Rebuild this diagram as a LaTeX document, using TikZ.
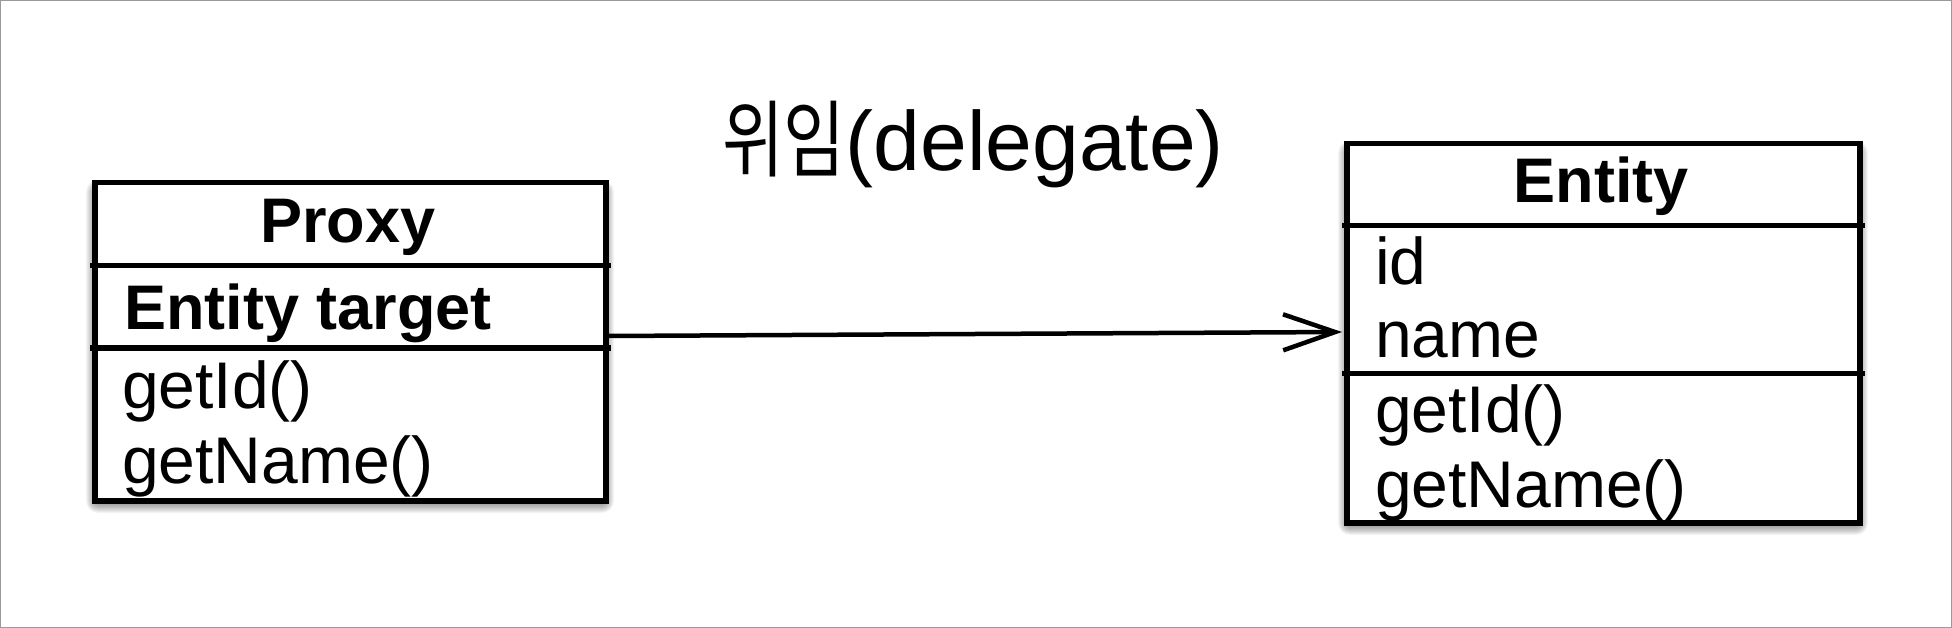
\documentclass[tikz,border=0pt]{standalone}
\usepackage{fontspec}
\usepackage{graphicx}
\setmainfont{Liberation Sans}
\newfontfamily\krfont{Noto Sans CJK KR}
\usetikzlibrary{arrows.meta,calc}
\tikzset{
  classbox/.style={draw=black, line width=5.5pt, fill=white, inner sep=0pt, anchor=north west},
  divider/.style={line width=5pt, line cap=rect},
  classtitle/.style={font=\bfseries\fontsize{63}{63}\selectfont, anchor=base, inner sep=0pt},
  attrbold/.style={font=\bfseries\fontsize{63}{63}\selectfont, anchor=base west, inner sep=0pt},
  member/.style={font=\fontsize{66}{66}\selectfont, anchor=base west, inner sep=0pt},
  relabel/.style={font=\fontsize{84}{84}\selectfont, anchor=base, inner sep=0pt},
  link/.style={line width=4.5pt, -{Straight Barb[length=52pt,width=36pt]}},
}
\newcommand{\softshadow}[2]{%
  \foreach \r in {1,...,12}{%
    \fill[black, opacity=0.045, rounded corners=\r pt]
      ($(#1)+(6-\r,12-\r)$) rectangle ($(#2)+(-1+\r,3+\r)$);
  }%
}
\begin{document}
\begin{tikzpicture}[x=1pt,y=-1pt]
  \useasboundingbox (0,0) rectangle (1952,628);
  \fill[white] (0,0) rectangle (1952,628);
  \draw[black!40, line width=2.5pt] (0,0) rectangle (1952,628);

  % shadows
  \coordinate (pnw) at (92,180);
  \coordinate (pse) at (603,498);
  \coordinate (enw) at (1344,141);
  \coordinate (ese) at (1857,520);
  \softshadow{pnw}{pse}
  \softshadow{enw}{ese}

  % Proxy class
  \node[classbox, minimum width=511pt, minimum height=318pt] (proxy) at (pnw) {};
  \draw[divider] (proxy.west |- 0,266) coordinate (pd1a) -- (proxy.east |- 0,266) coordinate (pd1b);
  \draw[divider] (proxy.west |- 0,348) coordinate (pd2a) -- (proxy.east |- 0,348) coordinate (pd2b);
  \node[classtitle] (proxyname) at (348,243) {Proxy};
  \node[attrbold] (proxytarget) at (124,330) {Entity target};
  \node[member] (proxygetid) at (122,408) {getId()};
  \node[member] (proxygetname) at (122,483) {getName()};

  % Entity class
  \node[classbox, minimum width=513pt, minimum height=379pt] (entity) at (enw) {};
  \draw[divider] (entity.west |- 0,226) coordinate (ed1a) -- (entity.east |- 0,226) coordinate (ed1b);
  \draw[divider] (entity.west |- 0,373) coordinate (ed2a) -- (entity.east |- 0,373) coordinate (ed2b);
  \node[classtitle] (entityname) at (1601,203) {Entity};
  \node[member] (entityid) at (1375,285) {id};
  \node[member] (entityname2) at (1375,358) {name};
  \node[member] (entitygetid) at (1375,432) {getId()};
  \node[member] (entitygetname) at (1375,507) {getName()};

  % delegation
  \coordinate (from) at (proxy.east |- 0,336);
  \coordinate (to) at ($(entity.west |- 0,332)+(-2,0)$);
  \draw[link] (from) -- (to);
  \node[relabel] (dlabel) at (973,171) {{\krfont\scalebox{0.8}[1]{위임}}(delegate)};
\end{tikzpicture}
\end{document}
